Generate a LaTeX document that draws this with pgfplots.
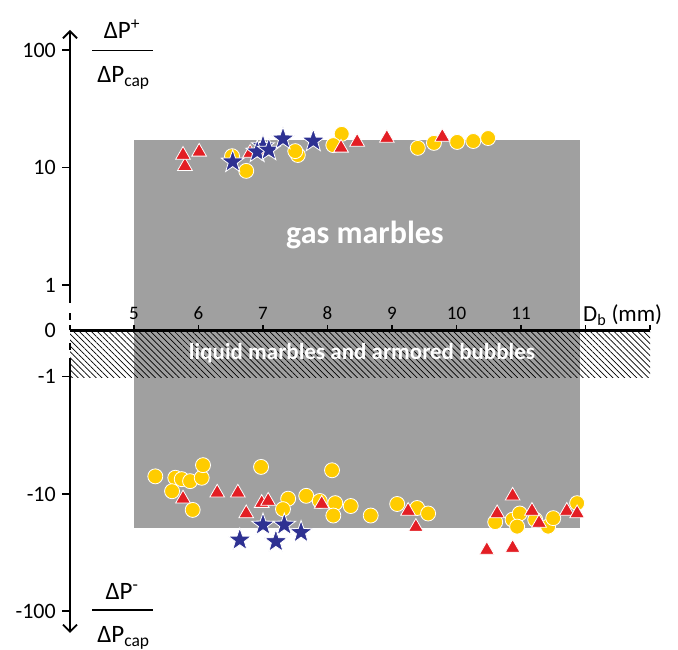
\documentclass[border=0pt]{standalone}
\usepackage{fontspec}
\setmainfont{Carlito}
\usepackage{pgfplots}
\pgfplotsset{compat=1.18}
\usetikzlibrary{patterns.meta,arrows.meta}
\definecolor{mred}{RGB}{227,30,36}
\definecolor{myel}{RGB}{255,204,0}
\definecolor{mnavy}{RGB}{46,49,146}
\definecolor{bggray}{RGB}{160,160,160}
\pgfdeclareplotmark{fstar}{%
 \pgfpathmoveto{\pgfqpoint{0pt}{\pgfplotmarksize}}%
 \pgfpathlineto{\pgfqpoint{-.235\pgfplotmarksize}{.324\pgfplotmarksize}}%
 \pgfpathlineto{\pgfqpoint{-.951\pgfplotmarksize}{.309\pgfplotmarksize}}%
 \pgfpathlineto{\pgfqpoint{-.380\pgfplotmarksize}{-.124\pgfplotmarksize}}%
 \pgfpathlineto{\pgfqpoint{-.588\pgfplotmarksize}{-.809\pgfplotmarksize}}%
 \pgfpathlineto{\pgfqpoint{0pt}{-.4\pgfplotmarksize}}%
 \pgfpathlineto{\pgfqpoint{.588\pgfplotmarksize}{-.809\pgfplotmarksize}}%
 \pgfpathlineto{\pgfqpoint{.380\pgfplotmarksize}{-.124\pgfplotmarksize}}%
 \pgfpathlineto{\pgfqpoint{.951\pgfplotmarksize}{.309\pgfplotmarksize}}%
 \pgfpathlineto{\pgfqpoint{.235\pgfplotmarksize}{.324\pgfplotmarksize}}%
 \pgfpathclose\pgfusepathqfillstroke}
\begin{document}
\begin{tikzpicture}
\begin{axis}[at={(0,0)}, anchor=south west, scale only axis,
  width=678pt, height=650pt,
  xmin=2.9225, xmax=13.434, ymin=-213.3, ymax=264.8,
  hide axis, clip=false, xtick=\empty, ytick=\empty,
  y coord trafo/.code={\pgfmathparse{((#1)>0.5)*(0.39+log10(max(abs(#1),1)))-((#1)<-0.5)*(0.39+log10(max(abs(#1),1)))}},
]
% grey region of gas marbles
\addplot[draw=none, fill=bggray] coordinates {(5,17) (11.91,17) (11.91,-19.5) (5,-19.5)} --cycle;
% hatched band: liquid marbles and armored bubbles
\addplot[draw=none, pattern={Lines[angle=-45,distance=4.2pt,line width=0.7pt]}] coordinates {(4.008,0) (13.0,0) (13.0,-1.03) (4.008,-1.03)} --cycle;

% yellow circles
\addplot[only marks, mark=*, mark size=7.5pt, mark options={fill=myel, draw=white, line width=0.8pt}] coordinates {
(6.52,12.4) (6.74,9.3) (7.54,12.7) (7.50,13.7) (8.22,19.2) (8.09,15.4)
(9.40,14.6) (9.65,16.1) (10.01,16.4) (10.26,16.7) (10.49,17.7)
(5.33,-7.1) (5.64,-7.3) (5.74,-7.5) (5.87,-7.8) (6.05,-7.3) (6.07,-5.7)
(5.59,-9.5) (5.91,-13.7) (6.97,-5.9) (8.07,-6.3) (7.39,-11.0) (7.31,-13.5)
(7.67,-10.4) (7.88,-11.5) (8.12,-12.0) (8.09,-15.3) (8.36,-12.7) (8.67,-15.3)
(9.08,-12.2) (9.39,-13.2) (9.56,-14.7) (10.60,-17.4) (10.87,-16.6) (10.98,-14.7)
(11.22,-16.6) (10.94,-19.0) (11.42,-19.0) (11.50,-16.1) (11.87,-12.0)
};
% red triangles
\addplot[only marks, mark=triangle*, mark size=8.5pt, mark options={fill=mred, draw=white, line width=0.8pt}] coordinates {
(5.79,10.2) (5.76,12.7) (6.01,13.5) (6.80,13.2) (6.95,14.0) (8.21,14.6)
(8.46,16.4) (8.92,17.7) (9.78,18.1)
(5.76,-11.0) (6.29,-9.8) (6.61,-9.8) (6.74,-14.7) (6.98,-12.0) (7.08,-11.5)
(7.91,-12.2) (9.25,-14.0) (9.37,-19.2) (10.87,-10.4) (10.63,-14.7) (11.17,-14.0)
(11.28,-17.7) (11.71,-14.0) (11.87,-14.7) (10.47,-30.1) (10.87,-28.9)
};
% navy stars
\addplot[only marks, mark=fstar, mark size=12pt, mark options={fill=mnavy, draw=white, line width=0.8pt}] coordinates {
(6.53,11.1) (7.00,15.0) (6.91,13.5) (7.09,14.0) (7.31,17.4) (7.78,16.7)
(6.64,-24.7) (7.00,-18.4) (7.20,-25.5) (7.33,-18.4) (7.59,-21.3)
};
\end{axis}
% axes (picture units: 1pt = 1px of the reference)
\draw[line width=2.2pt] (70pt,319.5pt) -- (650pt,319.5pt);
\foreach \x in {70,134,198.5,263,327.5,392,456.5,521,585.5,650}
  \draw[line width=1.6pt] (\x pt,319.5pt) -- (\x pt,325pt);
\draw[line width=2pt, -{Straight Barb[length=7pt,width=14pt,line width=1.8pt]}] (70pt,347pt) -- (70pt,620pt);
\draw[line width=2pt] (70pt,330pt) -- (70pt,337pt);
\draw[line width=2pt] (70pt,300pt) -- (70pt,307pt);
\draw[line width=2pt, -{Straight Barb[length=7pt,width=14pt,line width=1.8pt]}] (70pt,292pt) -- (70pt,17pt);
\foreach \y in {600,482.5,365,273.3,156,39}
  \draw[line width=1.6pt] (62pt,\y pt) -- (70pt,\y pt);
\begin{scope}[every node/.style={inner sep=0pt, anchor=east, font=\fontsize{22}{24}\selectfont}]
\node at (56pt,600pt) {100};
\node at (56pt,482.5pt) {10};
\node at (56pt,365pt) {1};
\node at (56pt,319.5pt) {0};
\node at (56pt,273.3pt) {-1};
\node at (56pt,156pt) {-10};
\node at (56pt,39pt) {-100};
\end{scope}
\begin{scope}[every node/.style={inner sep=0pt, anchor=base, font=\fontsize{19}{21}\selectfont}]
\node at (134pt,330pt) {5};
\node at (198.5pt,330pt) {6};
\node at (263pt,330pt) {7};
\node at (327.5pt,330pt) {8};
\node at (392pt,330pt) {9};
\node at (456.5pt,330pt) {10};
\node at (521pt,330pt) {11};
\end{scope}
\node[inner sep=0pt, anchor=base west, font=\fontsize{23}{25}\selectfont] at (583pt,328.5pt) {D\textsubscript{b} (mm)};
% white labels
\node[inner sep=0pt, anchor=base, text=white, font=\fontsize{32}{34}\selectfont\bfseries] at (365pt,406pt) {gas marbles};
\node[inner sep=0pt, anchor=base, text=white, font=\fontsize{23}{25}\selectfont\bfseries] at (362pt,290pt) {liquid marbles and armored bubbles};
% fraction labels
\node[inner sep=0pt, anchor=base, font=\fontsize{25}{27}\selectfont] at (122pt,611pt) {ΔP\textsuperscript{+}};
\draw[line width=1.4pt] (92pt,599.3pt) -- (153pt,599.3pt);
\node[inner sep=0pt, anchor=base, font=\fontsize{25}{27}\selectfont] at (123.5pt,567pt) {ΔP\textsubscript{cap}};
\node[inner sep=0pt, anchor=base, font=\fontsize{25}{27}\selectfont] at (122pt,50pt) {ΔP\textsuperscript{-}};
\draw[line width=1.4pt] (92pt,40pt) -- (153pt,40pt);
\node[inner sep=0pt, anchor=base, font=\fontsize{25}{27}\selectfont] at (123.5pt,7pt) {ΔP\textsubscript{cap}};
\pgfresetboundingbox
\path[use as bounding box] (0pt,0pt) rectangle (678pt,650pt);
\end{tikzpicture}
\end{document}
